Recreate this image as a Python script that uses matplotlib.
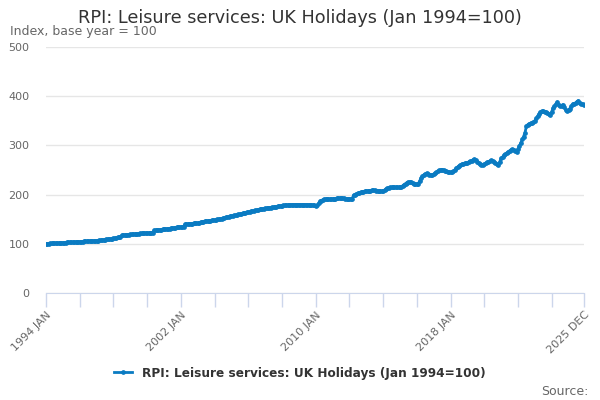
import numpy as np
import pandas as pd
import matplotlib
matplotlib.use("Agg")
import matplotlib.pyplot as plt

plt.rcParams['font.family'] = ['DejaVu Sans']

# Monthly index values, Jan 1994 to Dec 2025
holidays_index = [
    100.0, 100.2, 100.4, 100.7, 101.0, 101.2, 101.4, 101.5, 101.6, 101.7, 101.8, 101.9,  # 1994
    102.0, 102.2, 102.4, 102.7, 102.9, 103.1, 103.3, 103.5, 103.6, 103.7, 103.8, 104.0,  # 1995
    104.1, 104.3, 104.5, 104.8, 105.0, 105.2, 105.4, 105.6, 105.8, 106.0, 106.1, 106.3,  # 1996
    106.5, 106.7, 107.0, 107.4, 107.8, 108.2, 108.6, 109.0, 109.4, 109.8, 110.2, 110.6,  # 1997
    111.0, 111.5, 112.0, 112.9, 113.5, 114.0, 117.6, 117.9, 118.2, 118.4, 118.6, 118.8,  # 1998
    119.0, 119.2, 119.5, 119.8, 120.1, 120.4, 120.7, 121.0, 121.2, 121.4, 121.6, 121.8,  # 1999
    122.0, 122.1, 122.2, 122.3, 122.5, 127.3, 127.7, 128.0, 128.3, 128.6, 128.9, 129.2,  # 2000
    129.5, 129.8, 130.2, 130.6, 131.0, 131.5, 132.0, 132.5, 133.0, 133.3, 133.6, 134.0,  # 2001
    134.3, 134.6, 135.0, 139.5, 140.0, 140.4, 140.8, 141.0, 141.2, 141.4, 141.6, 141.8,  # 2002
    142.0, 143.0, 144.0, 144.5, 145.0, 145.5, 146.0, 146.5, 147.0, 147.3, 147.6, 148.0,  # 2003
    148.5, 149.0, 149.5, 150.2, 150.8, 151.4, 152.0, 152.8, 153.5, 154.2, 155.0, 155.8,  # 2004
    156.5, 157.2, 157.8, 158.5, 159.2, 160.0, 160.6, 161.3, 162.0, 162.7, 163.4, 164.0,  # 2005
    164.6, 165.2, 165.8, 166.4, 167.0, 167.8, 168.7, 169.3, 169.8, 170.3, 170.8, 171.3,  # 2006
    171.8, 172.2, 172.6, 173.1, 173.6, 174.2, 174.8, 175.3, 175.8, 176.3, 176.8, 177.2,  # 2007
    177.6, 178.0, 178.3, 178.6, 178.9, 179.2, 179.5, 179.6, 179.7, 179.7, 179.8, 179.8,  # 2008
    179.8, 179.7, 179.7, 179.7, 179.6, 179.6, 179.6, 179.5, 179.5, 179.4, 179.0, 178.3,  # 2009
    177.5, 178.0, 182.0, 186.0, 188.0, 189.5, 190.5, 191.0, 191.0, 190.8, 190.7, 191.0,  # 2010
    191.2, 191.5, 192.0, 192.5, 192.7, 193.0, 193.0, 192.8, 192.5, 192.0, 191.7, 191.5,  # 2011
    191.5, 191.3, 192.0, 199.0, 200.0, 201.5, 202.5, 203.5, 204.5, 205.3, 206.0, 206.5,  # 2012
    207.0, 207.5, 208.0, 208.3, 208.5, 208.7, 208.5, 208.0, 207.5, 207.0, 206.8, 206.7,  # 2013
    207.5, 209.0, 211.0, 213.0, 214.3, 214.7, 214.8, 214.8, 214.7, 214.7, 214.6, 214.6,  # 2014
    214.7, 216.0, 218.0, 220.5, 222.5, 224.5, 225.5, 226.0, 225.0, 223.5, 222.3, 221.5,  # 2015
    221.3, 222.5, 227.0, 234.0, 237.0, 240.0, 242.0, 243.5, 242.0, 240.5, 240.0, 240.0,  # 2016
    241.0, 243.0, 245.0, 247.0, 249.0, 250.5, 251.0, 250.0, 248.5, 247.5, 246.5, 245.5,  # 2017
    245.0, 245.5, 247.0, 250.0, 254.0, 256.0, 258.0, 260.5, 262.0, 263.0, 263.5, 264.0,  # 2018
    264.5, 266.5, 267.5, 269.0, 270.5, 272.0, 270.0, 267.0, 264.0, 262.0, 261.0, 260.7,  # 2019
    262.0, 263.5, 265.4, 266.5, 268.0, 269.5, 268.0, 266.0, 264.0, 262.0, 259.5, 266.0,  # 2020
    274.0, 276.0, 280.0, 282.0, 284.0, 287.0, 289.0, 291.0, 292.0, 291.0, 289.5, 287.0,  # 2021
    292.0, 298.6, 305.0, 312.0, 318.0, 325.7, 339.0, 342.0, 344.0, 345.0, 346.0, 347.0,  # 2022
    350.0, 354.7, 359.0, 364.0, 368.0, 369.0, 369.6, 368.0, 367.0, 366.0, 363.0, 361.0,  # 2023
    368.0, 376.0, 380.0, 384.0, 388.5, 383.0, 379.7, 381.0, 383.0, 378.0, 372.0, 369.6,  # 2024
    372.0, 375.0, 380.0, 384.5, 385.0, 386.5, 389.0, 391.0, 386.0, 384.5, 383.5, 383.0,  # 2025
]
months = pd.date_range("1994-01-01", "2025-12-01", freq="MS")
month_labels = [d.strftime("%Y %b").upper() for d in months]

labelled_months = ["1994 JAN", "2002 JAN", "2010 JAN", "2018 JAN", "2025 DEC"]
y_ticks = [0, 100, 200, 300, 400, 500]

series_name = "RPI: Leisure services: UK Holidays (Jan 1994=100)"
line_color = "#0a7bc2"
axis_color = "#ccd6eb"

fig = plt.figure(figsize=(6, 4), dpi=100)
ax = fig.add_axes([0.0767, 0.2675, 0.8966, 0.615])

x = np.arange(len(holidays_index))
ax.plot(x, holidays_index, color=line_color, lw=2, marker="o", ms=2.4,
        mec=line_color, mfc=line_color, label=series_name, zorder=3)

ax.set_xlim(0, len(x) - 1)
ax.set_ylim(0, 500)
ax.set_yticks(y_ticks)
ax.set_yticklabels([str(v) for v in y_ticks], color="#666666", fontsize=8)
ax.tick_params(axis="y", length=0, pad=12)
ax.grid(axis="y", color="#e6e6e6", lw=1)
ax.set_axisbelow(True)

# ticks every two years plus the last month
tick_pos = list(range(0, len(x), 24)) + [len(x) - 1]
ax.set_xticks(tick_pos)
ax.set_xticklabels([month_labels[p] if month_labels[p] in labelled_months else "" for p in tick_pos],
                   rotation=45, ha="right", rotation_mode="anchor", color="#666666", fontsize=8)
ax.tick_params(axis="x", length=10, color=axis_color, width=1, pad=2)

for s in ["top", "right", "left"]:
    ax.spines[s].set_visible(False)
ax.spines["bottom"].set_color(axis_color)

fig.text(0.5, 0.955, series_name, ha="center", va="center", fontsize=12.7, color="#333333")
fig.text(0.017, 0.92, "Index, base year = 100", ha="left", va="center", fontsize=9, color="#666666")
fig.text(0.98, 0.022, "Source:", ha="right", va="center", fontsize=9, color="#666666")

leg = fig.legend(loc="center", bbox_to_anchor=(0.5, 0.067), frameon=False, handlelength=1.5,
                 prop={"weight": "bold", "size": 8.75})
for t in leg.get_texts():
    t.set_color("#333333")

fig.savefig("out.png", dpi=100)
